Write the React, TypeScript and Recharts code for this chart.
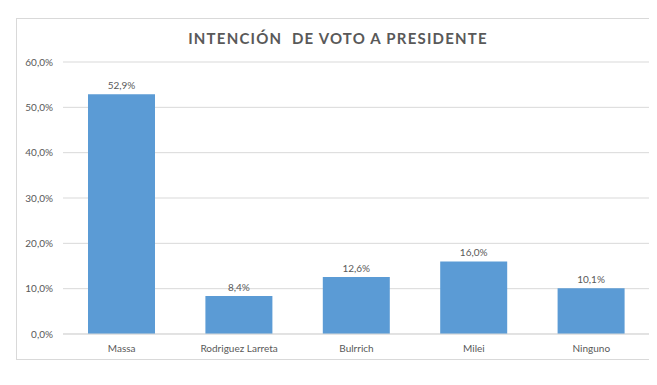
import { Bar, BarChart, CartesianGrid, LabelList, XAxis, YAxis } from "recharts";

const candidates = ["Massa", "Rodriguez Larreta", "Bulrrich", "Milei", "Ninguno"];
const votes = [52.9, 8.4, 12.6, 16.0, 10.1];
const yTicks = [0, 10, 20, 30, 40, 50, 60];

const data = candidates.map((name, i) => ({ name, votes: votes[i] }));

const pct = (v: number) => v.toFixed(1).replace(".", ",") + "%";
const font = "Lato, 'Open Sans', sans-serif";
const gray = "#595959";

export default function App() {
  return (
    <div style={{ position: "relative", width: 649, height: 369, fontFamily: font }}>
      <div
        style={{
          position: "absolute",
          left: 8,
          top: 10,
          width: 660,
          height: 342,
          border: "1px solid #d9d9d9",
          boxSizing: "border-box",
        }}
      />
      <div
        style={{
          position: "absolute",
          left: 0,
          top: 21,
          width: 660,
          textAlign: "center",
          fontSize: 15,
          fontWeight: 700,
          letterSpacing: 1.2,
          color: gray,
          whiteSpace: "pre",
        }}
      >
        {"INTENCIÓN  DE VOTO A PRESIDENTE"}
      </div>
      <div style={{ position: "absolute", left: 0, top: 0 }}>
        <BarChart
          width={649}
          height={360}
          data={data}
          margin={{ top: 54, right: 7, bottom: 4, left: 5 }}
          barSize={67}
        >
          <CartesianGrid vertical={false} stroke="#d9d9d9" />
          <XAxis
            dataKey="name"
            tickLine={false}
            axisLine={{ stroke: "#d9d9d9" }}
            tickMargin={5}
            tick={{ fontSize: 10, fill: gray, fontFamily: font }}
            interval={0}
          />
          <YAxis
            domain={[0, 60]}
            ticks={yTicks}
            tickFormatter={pct}
            width={50}
            axisLine={false}
            tickLine={false}
            tickMargin={4}
            tick={{ fontSize: 10, fill: gray, fontFamily: font }}
          />
          <Bar dataKey="votes" fill="#5b9bd5" isAnimationActive={false}>
            <LabelList
              dataKey="votes"
              position="top"
              offset={5}
              formatter={(v: any) => pct(Number(v))}
              style={{ fontSize: 10, fill: gray, fontFamily: font }}
            />
          </Bar>
        </BarChart>
      </div>
    </div>
  );
}
